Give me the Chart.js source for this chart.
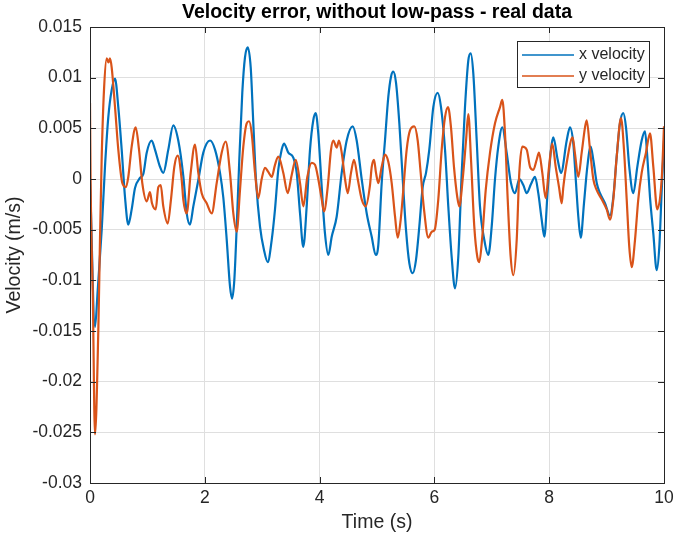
<!DOCTYPE html>
<html>
<head>
<meta charset="utf-8">
<script src="https://cdn.jsdelivr.net/npm/chart.js@4/dist/chart.umd.min.js"></script>
<style>
html,body{margin:0;padding:0;background:#fff;}
#wrap{width:674px;height:540px;}
</style>
</head>
<body>
<div id="wrap"><canvas id="c" width="674" height="540"></canvas></div>
<script>
const chartTitle = "Velocity error, without low-pass - real data";
const xAxisLabel = "Time (s)";
const yAxisLabel = "Velocity (m/s)";
const seriesNames = ["x velocity", "y velocity"];
const xTicks = [0, 2, 4, 6, 8, 10];
const yTicks = [0.015, 0.01, 0.005, 0, -0.005, -0.01, -0.015, -0.02, -0.025, -0.03];

const timeX = [0,0.087,0.134,0.204,0.261,0.319,0.378,0.436,0.493,0.552,0.610,0.667,0.726,0.784,0.871,0.929,0.988,1.075,1.132,1.220,1.277,1.364,1.451,1.538,1.625,1.685,1.742,1.800,1.887,1.974,2.091,2.178,2.265,2.322,2.382,2.439,2.474,2.514,2.556,2.601,2.653,2.700,2.747,2.800,2.845,2.892,2.962,3.031,3.096,3.166,3.223,3.280,3.340,3.380,3.455,3.542,3.601,3.659,3.716,3.775,3.833,3.890,3.932,3.977,4.037,4.094,4.152,4.211,4.298,4.385,4.472,4.577,4.646,4.733,4.821,4.908,4.977,5.023,5.082,5.139,5.197,5.244,5.284,5.331,5.389,5.448,5.505,5.563,5.622,5.679,5.737,5.796,5.854,5.911,5.981,6.057,6.115,6.185,6.242,6.301,6.359,6.416,6.476,6.533,6.591,6.632,6.678,6.737,6.794,6.869,6.939,6.998,7.056,7.113,7.183,7.259,7.334,7.404,7.479,7.549,7.608,7.683,7.753,7.810,7.869,7.915,7.974,8.031,8.071,8.148,8.206,8.305,8.362,8.420,8.467,8.507,8.549,8.606,8.664,8.723,8.768,8.828,8.885,8.972,9.059,9.117,9.176,9.233,9.291,9.338,9.395,9.465,9.535,9.611,9.669,9.709,9.756,9.814,9.873,9.918,9.960,10.0];
const velX = [0,-0.0146,-0.011,-0.005,0.0012,0.0061,0.0088,0.0099,0.0071,0.0029,-0.0018,-0.0045,-0.003,-0.0009,0.0001,0.0005,0.0026,0.0038,0.0029,0.0012,0.0006,0.0029,0.0053,0.0038,0.0003,-0.0034,-0.0045,-0.0027,-0.0001,0.0026,0.0038,0.0029,0.0006,-0.0018,-0.006,-0.0106,-0.0118,-0.010,-0.0047,0.0019,0.0085,0.012,0.013,0.011,0.0055,-0.0001,-0.0047,-0.007,-0.0082,-0.006,-0.003,0.0009,0.0029,0.0035,0.0026,0.0021,0.0006,-0.0034,-0.0067,-0.0027,0.0029,0.0058,0.0065,0.0045,-0.0008,-0.0054,-0.0075,-0.0057,-0.0037,0.0006,0.0038,0.0052,0.0038,0.0,-0.0034,-0.0057,-0.0075,-0.0065,-0.0004,0.0038,0.0081,0.0101,0.0106,0.0095,0.0055,0.0,-0.005,-0.0083,-0.0093,-0.008,-0.0047,-0.0008,0.0006,0.0029,0.0071,0.0085,0.0071,0.0029,-0.0027,-0.0077,-0.0108,-0.0077,0.0006,0.0071,0.0117,0.0124,0.0104,0.0038,-0.0027,-0.006,-0.0075,-0.0047,0.0,0.0032,0.0051,0.0026,-0.0004,-0.0014,0.0,-0.0006,-0.0014,-0.0005,0.0002,-0.0014,-0.004,-0.0057,-0.0011,0.0029,0.0041,0.0019,0.0006,0.0038,0.0051,0.0035,-0.0004,-0.0037,-0.0058,-0.0024,0.0012,0.0032,0.0019,-0.0004,-0.0014,-0.0024,-0.0036,-0.0018,0.0022,0.0055,0.0065,0.0051,0.0012,-0.0014,0.0012,0.0038,0.0047,0.0022,-0.0018,-0.0054,-0.009,-0.0067,-0.0011,0.0038];

const timeY = [0,0.01,0.05,0.087,0.145,0.174,0.204,0.244,0.291,0.322,0.348,0.378,0.436,0.493,0.563,0.622,0.667,0.726,0.796,0.854,0.911,0.988,1.045,1.080,1.145,1.190,1.232,1.277,1.354,1.411,1.469,1.528,1.598,1.625,1.685,1.754,1.829,1.887,1.946,2.033,2.120,2.207,2.294,2.364,2.439,2.497,2.556,2.613,2.671,2.730,2.770,2.817,2.875,2.932,2.991,3.049,3.106,3.166,3.223,3.280,3.368,3.444,3.514,3.584,3.659,3.716,3.786,3.862,3.920,3.977,4.037,4.077,4.141,4.199,4.239,4.298,4.338,4.385,4.443,4.490,4.547,4.599,4.664,4.733,4.803,4.878,4.908,4.948,4.983,5.023,5.082,5.139,5.197,5.256,5.314,5.361,5.413,5.458,5.517,5.575,5.650,5.709,5.761,5.819,5.894,5.953,6.005,6.068,6.127,6.185,6.237,6.289,6.341,6.399,6.434,6.493,6.551,6.591,6.638,6.695,6.748,6.782,6.834,6.894,6.969,7.056,7.143,7.183,7.230,7.277,7.329,7.375,7.434,7.479,7.531,7.608,7.666,7.723,7.782,7.822,7.880,7.939,7.997,8.054,8.113,8.171,8.218,8.246,8.305,8.409,8.449,8.507,8.566,8.624,8.653,8.711,8.768,8.828,8.915,9.002,9.059,9.117,9.176,9.251,9.303,9.350,9.395,9.437,9.495,9.552,9.611,9.686,9.756,9.814,9.883,9.960,10.0];
const velY = [0.0075,0.0,-0.012,-0.0252,-0.0149,-0.006,0.0022,0.0088,0.0119,0.0115,0.0119,0.011,0.0071,0.0029,-0.0004,-0.0008,0.0002,0.0032,0.0051,0.0029,-0.0004,-0.0022,-0.0013,-0.0024,-0.003,-0.0008,-0.0006,-0.0027,-0.0044,-0.002,0.0012,0.0023,-0.0001,-0.002,-0.0034,0.0006,0.0034,0.0006,-0.0014,-0.0024,-0.0034,-0.0004,0.0026,0.0037,0.0006,-0.0034,-0.0052,-0.0011,0.0032,0.0055,0.0057,0.0045,0.0006,-0.0019,0.0,0.0011,0.0007,0.0002,0.0014,0.0022,0.0006,-0.0014,0.0004,0.0019,-0.0004,-0.0027,0.0002,0.0016,0.0014,0.0,-0.002,-0.0032,-0.0008,0.0029,0.0038,0.0031,0.0038,0.0026,0.0,-0.0014,0.0006,0.0019,0.0,-0.002,-0.0027,-0.0006,0.0012,0.0019,0.0006,-0.0004,0.0012,0.0024,0.0017,-0.0004,-0.0037,-0.0058,-0.004,-0.0011,0.0029,0.0048,0.0052,0.0038,0.0006,-0.003,-0.0058,-0.0052,-0.005,-0.002,0.0029,0.0061,0.0071,0.0051,0.0012,-0.0018,-0.0027,0.0,0.0038,0.0064,0.0019,-0.0047,-0.0077,-0.0082,-0.0057,-0.0011,0.0026,0.0055,0.0071,0.0078,0.0045,-0.002,-0.0077,-0.0095,-0.006,0.0006,0.0032,0.0029,0.0012,0.0009,0.0019,0.0026,0.0006,-0.0019,0.0012,0.0035,0.0012,-0.0008,-0.0024,-0.0008,0.0016,0.0041,0.0025,0.0002,0.0026,0.0051,0.0058,0.0029,0.0,-0.0011,-0.002,-0.003,-0.004,-0.002,0.0022,0.006,0.0029,-0.002,-0.0067,-0.0087,-0.006,-0.002,0.0006,0.0026,0.0045,0.0012,-0.003,0.0,0.0052];

const blue = '#0072BD';
const orange = '#D95319';
const axisColor = '#262626';
const gridColor = '#dfdfdf';
const fontFam = '"Liberation Sans", Arial, Helvetica, sans-serif';

function pts(xs, ys){ return xs.map((x,i)=>({x:x, y:ys[i]})); }

const framePlugin = {
  id: 'frame',
  afterDraw(chart){
    const {ctx, chartArea:a, scales} = chart;
    ctx.save();
    ctx.strokeStyle = axisColor;
    ctx.lineWidth = 1;
    ctx.beginPath();
    xTicks.forEach(v=>{
      const px = Math.round(scales.x.getPixelForValue(v))+0.5;
      ctx.moveTo(px, a.bottom); ctx.lineTo(px, a.bottom-6);
      ctx.moveTo(px, a.top); ctx.lineTo(px, a.top+6);
    });
    yTicks.forEach(v=>{
      const py = Math.round(scales.y.getPixelForValue(v))+0.5;
      ctx.moveTo(a.left, py); ctx.lineTo(a.left+6, py);
      ctx.moveTo(a.right, py); ctx.lineTo(a.right-6, py);
    });
    ctx.stroke();
    ctx.strokeRect(Math.round(a.left)+0.5, Math.round(a.top)+0.5, Math.round(a.right-a.left), Math.round(a.bottom-a.top));
    ctx.fillStyle = '#000';
    ctx.font = 'bold 19.5px ' + fontFam;
    ctx.textAlign = 'center';
    ctx.textBaseline = 'middle';
    ctx.fillText(chartTitle, (a.left+a.right)/2, 13);
    const lx = 517, ly = 41, lw = 132, lh = 46;
    ctx.fillStyle = '#fff';
    ctx.fillRect(lx, ly, lw, lh);
    ctx.strokeStyle = axisColor;
    ctx.strokeRect(lx+0.5, ly+0.5, lw, lh);
    const rows = [[seriesNames[0], blue, 55], [seriesNames[1], orange, 76]];
    ctx.font = '16px ' + fontFam;
    ctx.textAlign = 'left';
    rows.forEach(([t,c,y])=>{
      ctx.strokeStyle = c; ctx.lineWidth = 1.5;
      ctx.beginPath(); ctx.moveTo(522, y); ctx.lineTo(574, y); ctx.stroke();
      ctx.fillStyle = axisColor;
      ctx.fillText(t, 579, y);
    });
    ctx.restore();
  }
};

new Chart(document.getElementById('c'), {
  type: 'line',
  data: {
    datasets: [
      {label: seriesNames[0], data: pts(timeX, velX), borderColor: blue, backgroundColor: blue, borderWidth: 2.2, pointRadius: 0, cubicInterpolationMode: 'monotone', order: 2},
      {label: seriesNames[1], data: pts(timeY, velY), borderColor: orange, backgroundColor: orange, borderWidth: 2.2, pointRadius: 0, cubicInterpolationMode: 'monotone', order: 1}
    ]
  },
  options: {
    responsive: false,
    animation: false,
    events: [],
    layout: {padding: {top: 27, right: 10, left: 0, bottom: 0}},
    plugins: {legend: {display: false}, tooltip: {enabled: false}, title: {display: false}},
    scales: {
      x: {
        type: 'linear', min: 0, max: 10,
        afterFit(s){ s.height = 57; s.paddingLeft = 0; s.paddingRight = 0; },
        afterBuildTicks(s){ s.ticks = xTicks.map(v=>({value:v})); },
        ticks: {color: axisColor, font: {family: fontFam, size: 17.5}, padding: 5, maxRotation: 0, callback: v => String(v)},
        grid: {color: gridColor, drawTicks: false},
        border: {display: false},
        title: {display: true, text: xAxisLabel, color: axisColor, font: {family: fontFam, size: 19.5}, padding: {top: 0, bottom: 6}}
      },
      y: {
        type: 'linear', min: -0.03, max: 0.015,
        afterFit(s){ s.width = 90; s.paddingTop = 0; s.paddingBottom = 0; },
        afterBuildTicks(s){ s.ticks = yTicks.slice().reverse().map(v=>({value:v})); },
        ticks: {color: axisColor, font: {family: fontFam, size: 17.5}, padding: 8, callback: v => String(Number(v.toFixed(3)))},
        grid: {color: gridColor, drawTicks: false},
        border: {display: false},
        title: {display: true, text: yAxisLabel, color: axisColor, font: {family: fontFam, size: 19.5}, padding: {top: 3, bottom: 0}}
      }
    }
  },
  plugins: [framePlugin]
});
</script>
</body>
</html>
